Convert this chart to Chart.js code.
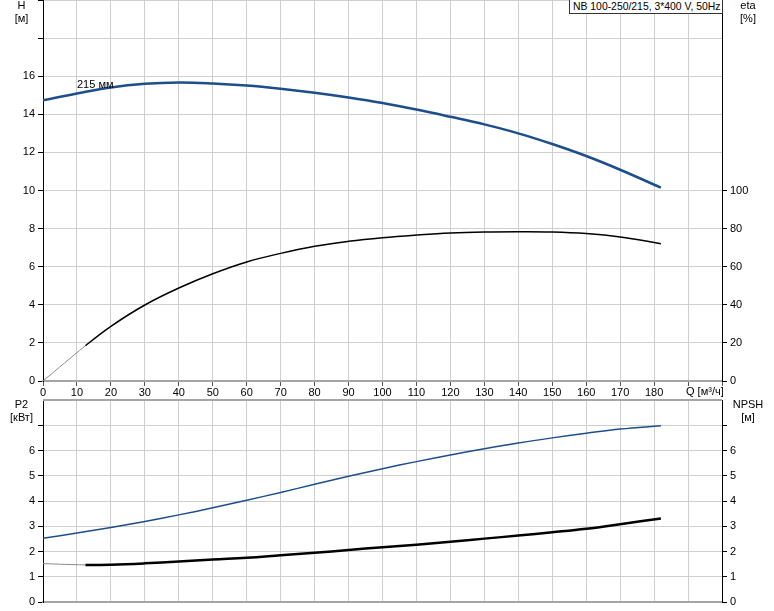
<!DOCTYPE html>
<html>
<head>
<meta charset="utf-8">
<script src="https://cdn.jsdelivr.net/npm/chart.js@4"></script>
<style>
  body{margin:0;background:#fff;width:774px;height:611px;overflow:hidden;position:relative;font-family:'Liberation Sans',Arial,sans-serif;font-size:11px;color:#000}
  canvas{position:absolute;left:0}
  .lbl{position:absolute;text-align:center;line-height:13px;z-index:2}
  .title{position:absolute;left:569px;top:-1px;width:154px;height:15px;box-sizing:border-box;border:1px solid #333;background:#fff;line-height:13px;padding-left:3px;white-space:nowrap;font-size:10.4px;z-index:2}
</style>
</head>
<body>
<canvas id="top" width="774" height="398" style="top:0"></canvas>
<canvas id="bot" width="774" height="226" style="top:385px"></canvas>
<div class="lbl" style="left:0;top:-1px;width:43px">H<br>[м]</div>
<div class="lbl" style="left:722px;top:-1px;width:52px">eta<br>[%]</div>
<div class="lbl" style="left:0;top:398px;width:43px">P2<br>[кВт]</div>
<div class="lbl" style="left:722px;top:398px;width:52px">NPSH<br>[м]</div>
<div class="title">NB 100-250/215, 3*400 V, 50Hz</div>
<div class="lbl" style="left:77px;top:78px;text-align:left">215 мм</div>
<div class="lbl" style="left:686px;top:385px;text-align:left">Q [м³/ч]</div>
<script>
// flow points, m3/h
const qH   = [0,10,20,30,40,50,60,70,80,90,100,110,120,130,140,150,160,170,182];
const qEta = [0,12.5,20,30,40,50,60,70,80,90,100,110,120,130,140,150,160,170,182];
const qP2  = [0,10,20,30,40,50,60,70,80,90,100,110,120,130,140,150,160,170,182];
const qNpsh= [0,12.5,20,30,40,50,60,70,80,90,100,110,120,130,140,150,160,170,182];

const headH = [14.73,15.09,15.41,15.60,15.67,15.62,15.51,15.34,15.13,14.88,14.59,14.25,13.87,13.47,13.00,12.44,11.81,11.09,10.15];
const etaPct = [0,18.5,28.7,39.9,48.8,56.3,62.5,67.0,70.7,73.3,75.2,76.6,77.7,78.25,78.4,78.25,77.4,75.6,72.1];
const p2kW = [2.52,2.73,2.95,3.19,3.45,3.73,4.03,4.34,4.66,4.98,5.28,5.56,5.82,6.07,6.30,6.50,6.68,6.85,6.98];
const npshM = [1.52,1.47,1.48,1.53,1.60,1.68,1.75,1.85,1.95,2.06,2.17,2.27,2.39,2.51,2.63,2.76,2.90,3.08,3.31];

const xMax = 200, hMax = 20, etaMax = 200, pMax = 8;
const hLabelMax = 16, etaLabelMax = 100, pLabelMax = 6;

const FONT = {family:"'Liberation Sans', Arial, sans-serif", size:11};
const BLUE = '#1c4e8c', GRID = '#cfcfcf';
const pts = (xs, ys) => xs.map((x,i)=>({x, y:ys[i]}));

Chart.defaults.font = FONT;
Chart.defaults.color = '#000';

const fixY = w => s => { s.width = w; s.paddingTop = 0; s.paddingBottom = 0; };
const fixX = h => s => { s.height = h; s.paddingLeft = 0; s.paddingRight = 0; };
const startGray = wThick => ({
  borderColor: c => c.p0.parsed.x < 12 ? '#8a8a8a' : '#000',
  borderWidth: c => c.p0.parsed.x < 12 ? 1 : wThick
});
const tickUpTo = max => c => (c.tick && c.tick.value > max) ? 'rgba(0,0,0,0)' : '#000';

const common = {
  responsive:false, animation:false, devicePixelRatio:1,
  plugins:{legend:{display:false}, tooltip:{enabled:false}},
  elements:{point:{radius:0}, line:{tension:0.4}}
};

new Chart(document.getElementById('top'), {
  type:'line',
  data:{datasets:[
    {data:pts(qH, headH), borderColor:BLUE, borderWidth:2.5, yAxisID:'y'},
    {data:pts(qEta, etaPct), borderColor:'#000', borderWidth:1.5, yAxisID:'y2', segment:startGray(1.5)}
  ]},
  options:{...common,
    layout:{padding:0},
    scales:{
      x:{type:'linear', min:0, max:xMax, afterFit:fixX(17),
        ticks:{stepSize:10, autoSkip:false, maxRotation:0, padding:0,
          callback:v => v <= 180 ? String(v) : ''},
        grid:{color:GRID, tickColor:'#555', tickLength:5},
        border:{color:'#a5a5a5', width:2}},
      y:{position:'left', min:0, max:hMax, afterFit:fixY(43),
        ticks:{stepSize:2, padding:3, callback:v => v <= hLabelMax ? String(v) : ''},
        grid:{color:GRID, tickColor:'#000', tickLength:5},
        border:{color:'#000', width:1}},
      y2:{position:'right', min:0, max:etaMax, afterFit:fixY(52),
        ticks:{stepSize:20, padding:3, callback:v => v <= etaLabelMax ? String(v) : ''},
        grid:{drawOnChartArea:false, tickColor:tickUpTo(etaLabelMax), tickLength:5},
        border:{color:'#000', width:1}}
    }
  }
});

const topLine = {
  id:'topLine',
  afterDraw(c){
    const a = c.chartArea, g = c.ctx;
    g.save(); g.strokeStyle = '#a5a5a5'; g.lineWidth = 2;
    g.beginPath(); g.moveTo(a.left, a.top); g.lineTo(a.right, a.top); g.stroke(); g.restore();
  }
};

new Chart(document.getElementById('bot'), {
  type:'line',
  data:{datasets:[
    {data:pts(qP2, p2kW), borderColor:BLUE, borderWidth:1.5, yAxisID:'y'},
    {data:pts(qNpsh, npshM), borderColor:'#000', borderWidth:2.5, yAxisID:'y2', segment:startGray(2.5)}
  ]},
  plugins:[topLine],
  options:{...common,
    layout:{padding:{top:15}},
    scales:{
      x:{type:'linear', min:0, max:xMax, afterFit:fixX(9),
        ticks:{stepSize:10, display:false},
        grid:{color:GRID, drawTicks:false},
        border:{color:'#a5a5a5', width:2}},
      y:{position:'left', min:0, max:pMax, afterFit:fixY(43),
        ticks:{stepSize:1, padding:3, callback:v => v <= pLabelMax ? String(v) : ''},
        grid:{color:GRID, tickColor:tickUpTo(7), tickLength:5},
        border:{color:'#000', width:1}},
      y2:{position:'right', min:0, max:pMax, afterFit:fixY(52),
        ticks:{stepSize:1, padding:3, callback:v => v <= pLabelMax ? String(v) : ''},
        grid:{drawOnChartArea:false, tickColor:tickUpTo(7), tickLength:5},
        border:{color:'#000', width:1}}
    }
  }
});
</script>
</body>
</html>
